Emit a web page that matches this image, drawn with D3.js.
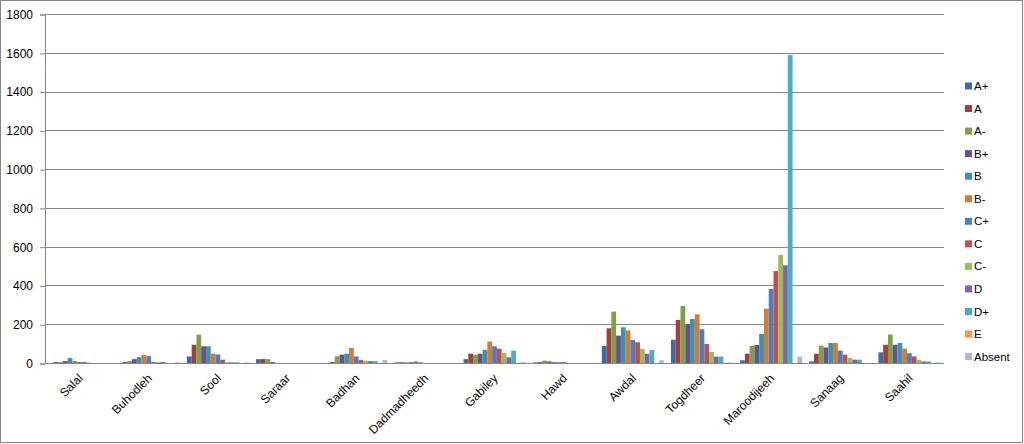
<!DOCTYPE html>
<html>
<head>
<meta charset="utf-8">
<script src="https://cdn.jsdelivr.net/npm/d3@7"></script>
<style>
  html, body { margin: 0; padding: 0; background: #fff; }
  svg { display: block; }
  text { font-family: "Liberation Sans", Arial, sans-serif; fill: #000; }
</style>
</head>
<body>
<svg id="chart" width="1024" height="444"></svg>
<script>
// ---- data ----
const categories = ["Salal", "Buhodleh", "Sool", "Saraar", "Badhan", "Dadmadheedh", "Gabiley", "Hawd", "Awdal", "Togdheer", "Maroodijeeh", "Sanaag", "Saahil"];
const grades = ["A+", "A", "A-", "B+", "B", "B-", "C+", "C", "C-", "D", "D+", "E", "Absent"];
const gradeColors = ["#3F6AA6", "#A23E3B", "#80A046", "#67518A", "#3C93AC", "#D07C35", "#4A7EC4", "#C0504D", "#9BBB59", "#8064A2", "#4BACC6", "#F79646", "#A6B9DA"];
const yTicks = [0, 200, 400, 600, 800, 1000, 1200, 1400, 1600, 1800];

const valsAPlus  = [0, 0, 34, 20, 0, 3, 20, 3, 88, 120, 14, 8, 55];
const valsA      = [5, 5, 94, 20, 5, 4, 48, 5, 179, 222, 48, 48, 94];
const valsAMinus = [5, 10, 146, 20, 34, 4, 43, 12, 265, 294, 88, 89, 147];
const valsBPlus  = [10, 20, 86, 5, 43, 4, 48, 8, 141, 200, 93, 80, 94];
const valsB      = [25, 30, 86, 0, 48, 8, 68, 5, 184, 227, 150, 103, 103];
const valsBMinus = [10, 42, 48, 0, 77, 4, 111, 5, 168, 251, 280, 103, 74];
const valsCPlus  = [5, 35, 44, 0, 34, 0, 86, 5, 119, 174, 382, 64, 50];
const valsC      = [5, 5, 17, 0, 15, 0, 74, 0, 107, 98, 474, 43, 34];
const valsCMinus = [2, 5, 4, 0, 12, 0, 52, 0, 72, 57, 557, 26, 17];
const valsD      = [0, 5, 3, 0, 10, 0, 29, 0, 48, 33, 504, 17, 8];
const valsDPlus  = [0, 0, 4, 0, 10, 0, 63, 0, 67, 33, 1588, 17, 8];
const valsE      = [0, 0, 0, 0, 0, 0, 0, 0, 0, 0, 0, 0, 0];
const valsAbsent = [0, 3, 3, 0, 15, 0, 4, 0, 14, 3, 33, 0, 3];

const seriesValues = [valsAPlus, valsA, valsAMinus, valsBPlus, valsB, valsBMinus, valsCPlus, valsC, valsCMinus, valsD, valsDPlus, valsE, valsAbsent];

// ---- layout ----
const svg = d3.select("#chart");
const W = 1024, H = 444;
const plot = { left: 45, right: 944, top: 14, bottom: 363 };
const gridColor = "#868686";

svg.append("rect")
  .attr("x", 0.5).attr("y", 0.5)
  .attr("width", W - 2).attr("height", H - 2)
  .attr("fill", "#fff").attr("stroke", gridColor).attr("stroke-width", 1);

const y = d3.scaleLinear().domain([0, 1800]).range([plot.bottom, plot.top]);
const pIn = 1.5 / 14.5;
const x0 = d3.scaleBand().domain(categories).range([plot.left, plot.right])
  .paddingInner(pIn).paddingOuter(pIn / 2);
const x1 = d3.scaleBand().domain(grades).range([0, x0.bandwidth()]).padding(0);

// gridlines
const snap = v => Math.round(v) + 0.5;
svg.append("g").selectAll("line").data(yTicks).join("line")
  .attr("x1", plot.left).attr("x2", plot.right)
  .attr("y1", d => snap(y(d))).attr("y2", d => snap(y(d)))
  .attr("stroke", gridColor).attr("stroke-width", 1);

// y axis
const yAxis = d3.axisLeft(y).tickValues(yTicks).tickSize(5).tickPadding(7).tickFormat(d3.format("d"));
const gy = svg.append("g").attr("transform", `translate(${snap(plot.left) - 0.5},0.5)`).call(yAxis);
gy.select(".domain").attr("stroke", gridColor);
gy.selectAll(".tick line").attr("stroke", gridColor);
gy.selectAll(".tick text").attr("font-size", 12).attr("font-family", "Liberation Sans, Arial, sans-serif").attr("fill", "#000");

// bars
const groups = svg.append("g").selectAll("g").data(categories).join("g")
  .attr("transform", d => `translate(${x0(d)},0)`);
groups.selectAll("rect")
  .data((c, ci) => grades.map((g, gi) => ({ g, gi, v: seriesValues[gi][ci] })))
  .join("rect")
  .attr("x", d => x1(d.g))
  .attr("width", x1.bandwidth())
  .attr("y", d => y(d.v))
  .attr("height", d => y(0) - y(d.v))
  .attr("fill", d => gradeColors[d.gi]);

// x labels
svg.append("g").selectAll("text").data(categories).join("text")
  .attr("transform", d => `translate(${x0(d) + x0.bandwidth() / 2 + 1},${plot.bottom + 13}) rotate(-45)`)
  .attr("text-anchor", "end")
  .attr("dy", "0.35em")
  .attr("font-size", 12)
  .text(d => d);

// legend
const legend = svg.append("g").selectAll("g").data(grades).join("g")
  .attr("transform", (d, i) => `translate(965,${86 + i * 22.55})`);
legend.append("rect").attr("x", 0).attr("y", -3.5).attr("width", 7).attr("height", 7)
  .attr("fill", (d, i) => gradeColors[i]);
legend.append("text").attr("x", 9).attr("dy", "0.35em").attr("font-size", 11.5).text(d => d);
</script>
</body>
</html>
